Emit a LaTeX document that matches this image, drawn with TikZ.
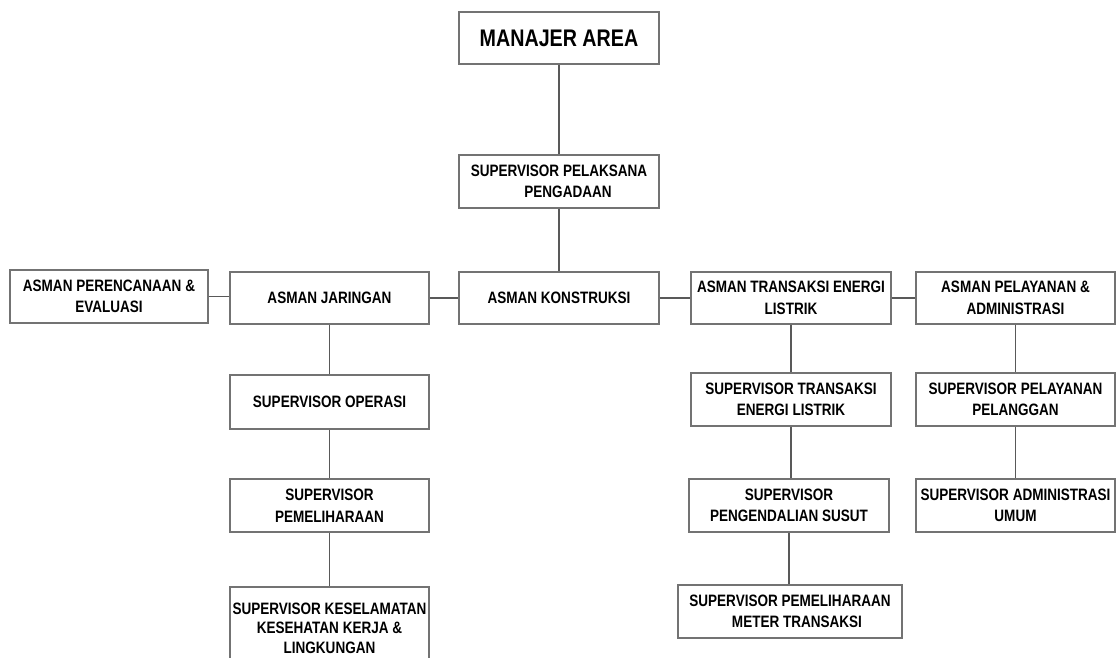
\documentclass[tikz,border=0pt]{standalone}
\usepackage{fontspec}
\setmainfont{Liberation Sans}[FakeStretch=0.82]
\begin{document}
\begin{tikzpicture}[x=1pt,y=-1pt,
  box/.style={draw=black!55, line width=1.2pt, fill=white, inner sep=0pt, align=center,
    font=\fontsize{16.5}{21.5}\selectfont\bfseries, minimum width=199pt, minimum height=53pt},
  link/.style={draw=black!65, line width=1.2pt}]
\useasboundingbox (0,0) rectangle (1117,658);
\fill[white] (0,0) rectangle (1117,658);
\node[box, minimum width=200pt, minimum height=52pt, font=\fontsize{24}{28}\selectfont\bfseries] (man) at (559,38) {MANAJER AREA};
\node[box, minimum width=200pt] (pel) at (559,181.5) {SUPERVISOR PELAKSANA\\\hspace*{18pt}PENGADAAN};
\node[box, minimum width=200pt, minimum height=52pt] (kon) at (559,298) {ASMAN KONSTRUKSI};
\node[box, minimum width=198pt] (ren) at (109,296.5) {ASMAN PERENCANAAN \&\\EVALUASI};
\node[box, minimum height=52pt] (jar) at (329.5,298) {ASMAN JARINGAN};
\node[box, minimum width=200pt, minimum height=52pt] (tel) at (791,298) {ASMAN TRANSAKSI ENERGI\\LISTRIK};
\node[box, minimum height=52pt] (pla) at (1015.5,298) {ASMAN PELAYANAN \&\\ADMINISTRASI};
\node[box, minimum height=54pt] (ops) at (329.5,402) {SUPERVISOR OPERASI};
\node[box] (pem) at (329.5,505.5) {SUPERVISOR\\PEMELIHARAAN};
\node[box, minimum height=82pt, text depth=0pt, font=\fontsize{16.5}{19.5}\selectfont\bfseries] (k3) at (329.5,628) {SUPERVISOR KESELAMATAN\\KESEHATAN KERJA \&\\LINGKUNGAN};
\node[box, minimum width=200pt] (ste) at (791,399.5) {SUPERVISOR TRANSAKSI\\ENERGI LISTRIK};
\node[box, minimum width=200pt] (psu) at (789,505.5) {SUPERVISOR\\PENGENDALIAN SUSUT};
\node[box, minimum width=224pt] (pmt) at (790,611.5) {SUPERVISOR PEMELIHARAAN\\\hspace*{14pt}METER TRANSAKSI};
\node[box] (ppl) at (1015.5,399.5) {SUPERVISOR PELAYANAN\\PELANGGAN};
\node[box] (adm) at (1015.5,505.5) {SUPERVISOR ADMINISTRASI\\UMUM};
\draw[link] (man) -- (pel);
\draw[link] (pel) -- (kon);
\draw[link] (ren.east) -- (ren.east -| jar.west);
\draw[link] (jar) -- (kon);
\draw[link] (kon) -- (tel);
\draw[link] (tel) -- (pla);
\draw[link] (jar) -- (ops);
\draw[link] (ops) -- (pem);
\draw[link] (pem) -- (k3);
\draw[link] (tel) -- (ste);
\draw[link] (ste.south) -- (ste.south |- psu.north);
\draw[link] (psu.south) -- (psu.south |- pmt.north);
\draw[link] (pla) -- (ppl);
\draw[link] (ppl) -- (adm);
\end{tikzpicture}
\end{document}
